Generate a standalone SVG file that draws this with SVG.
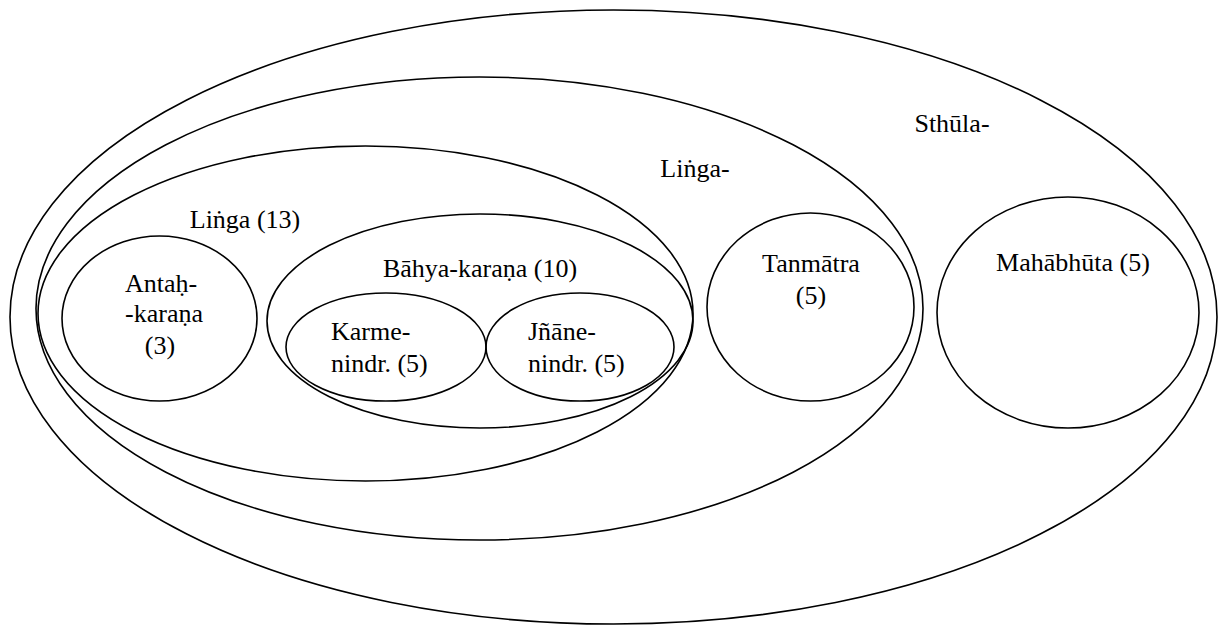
<svg xmlns="http://www.w3.org/2000/svg" width="1219" height="626" viewBox="0 0 1219 626">
<style>
  .e { fill: none; stroke: #000; stroke-width: 1.6; }
  .t { font-family: 'Liberation Serif', Tinos, 'Times New Roman', Times, 'Nimbus Roman', 'DejaVu Serif', serif; font-size: 26px; fill: #000; }
  .c { text-anchor: middle; }
</style>
<rect x="0" y="0" width="1219" height="626" fill="#fff"/>
<g id="sthula">
  <ellipse class="e" cx="613.5" cy="317" rx="603.5" ry="307"/>
  <text class="t c" x="952" y="132">Sthūla-</text>
</g>
<g id="linga-sarira">
  <ellipse class="e" cx="479.5" cy="308.5" rx="443.5" ry="231.5"/>
  <text class="t c" x="695" y="177">Liṅga-</text>
</g>
<g id="linga13">
  <ellipse class="e" cx="365.5" cy="313.5" rx="327.5" ry="167.5"/>
  <text class="t c" x="245" y="228">Liṅga (13)</text>
</g>
<g id="antahkarana">
  <ellipse class="e" cx="159.5" cy="318.5" rx="97.5" ry="82.5"/>
  <text class="t c" x="161" y="292">Antaḥ-</text>
  <text class="t c" x="164" y="322">-karaṇa</text>
  <text class="t c" x="160" y="354">(3)</text>
</g>
<g id="bahyakarana">
  <ellipse class="e" cx="480" cy="321" rx="213" ry="107"/>
  <text class="t c" x="480" y="277">Bāhya-karaṇa (10)</text>
</g>
<g id="karmendriya">
  <ellipse class="e" cx="386" cy="347" rx="100" ry="54"/>
  <text class="t" x="331" y="340">Karme-</text>
  <text class="t" x="331" y="372">nindr. (5)</text>
</g>
<g id="jnanendriya">
  <ellipse class="e" cx="580" cy="347" rx="94" ry="54"/>
  <text class="t" x="528" y="340">Jñāne-</text>
  <text class="t" x="528" y="372">nindr. (5)</text>
</g>
<g id="tanmatra">
  <ellipse class="e" cx="810.5" cy="307" rx="103.5" ry="94"/>
  <text class="t c" x="811" y="272">Tanmātra</text>
  <text class="t c" x="811" y="304">(5)</text>
</g>
<g id="mahabhuta">
  <ellipse class="e" cx="1068" cy="312.5" rx="131" ry="115.5"/>
  <text class="t c" x="1073" y="271">Mahābhūta (5)</text>
</g>
<g id="connectors"></g>
</svg>
